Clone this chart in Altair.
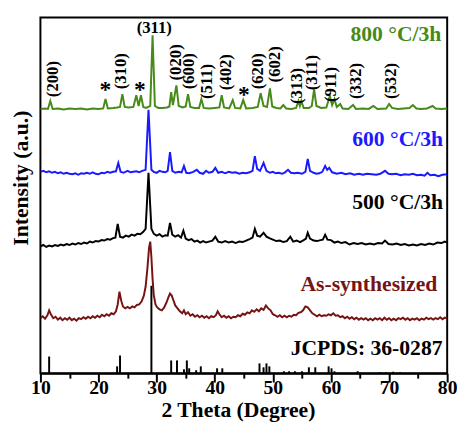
import altair as alt
import pandas as pd

# ---------------- data (2-theta in degrees, intensity in arbitrary stacked units) -------------
green_x = [10.0, 10.8, 11.3, 11.7, 12.1, 13, 14, 15, 16, 17, 18, 19, 20, 20.8, 21.2, 21.6, 22.5, 23.2,
           23.7, 24.1, 24.5, 25.2, 26, 26.5, 26.9, 27.3, 27.7, 28.2, 28.9, 29.3, 29.7, 30.3, 31, 31.8,
           32.2, 32.5, 32.8, 33.4, 33.8, 34.5, 35.0, 35.4, 35.8, 36.5, 37.3, 37.7, 38.1, 39, 40, 40.8,
           41.2, 41.6, 42.5, 43.1, 43.5, 44.4, 44.9, 45.4, 46.5, 47.4, 47.9, 48.4, 49.0, 49.5, 49.9,
           50.6, 51.3, 51.8, 52.3, 53.2, 54, 54.4, 54.65, 54.9, 55.3, 56.2, 56.7, 57.1, 57.5, 58.3,
           59.2, 59.8, 60.2, 60.6, 61.0, 61.6, 62.0, 63.0, 63.8, 64.3, 65.5, 66.5, 67.3, 68, 69.5,
           70.0, 70.5, 71.5, 72.5, 73.5, 74.1, 74.7, 75.5, 76.5, 77.5, 78, 79, 80]
green_y = [269, 269.5, 269, 277, 269, 269.5, 268.5, 269.5, 269, 269.5, 268.5, 269.5, 269, 269.5, 279,
           269.5, 270, 270.5, 271, 284, 271, 270.5, 271, 283, 272, 283, 271, 270, 272, 344, 272, 270,
           270, 270.5, 271.5, 286, 273, 293, 272, 270.5, 271.5, 284, 271, 270, 270, 279, 270, 269.5,
           270, 270.5, 283, 270.5, 269.5, 278, 270, 269.5, 278, 269.5, 270, 271, 285, 272, 271, 290,
           271.5, 270, 269.5, 273, 269.5, 269, 270, 277, 272, 277, 270, 270, 272, 289, 272, 270,
           270.5, 282, 273, 279, 271, 274, 269.5, 269, 273, 269, 269.5, 269, 272, 269, 269.5, 274,
           270, 269, 269.5, 270, 273, 269.5, 269, 269.5, 272, 269.5, 269, 269.5]

blue_x = [10, 10.5, 11, 11.5, 12, 12.5, 13, 13.5, 14, 14.5, 15, 15.5, 16, 16.5, 17, 17.5, 18, 18.5, 19,
          19.5, 20, 20.5, 21, 21.5, 22, 22.5, 23.0, 23.4, 23.8, 24.3, 25, 25.5, 26, 26.5, 27, 27.5,
          28.1, 28.6, 29.1, 29.5, 30, 30.5, 31, 31.5, 31.9, 32.3, 32.7, 33.2, 33.8, 34.3, 34.7, 35.1,
          35.6, 36.3, 36.9, 37.4, 38, 38.5, 39, 39.6, 40.1, 40.6, 41.2, 41.8, 42.4, 43, 43.6, 44.2,
          44.8, 45.4, 46, 46.5, 46.9, 47.3, 47.8, 48.4, 48.9, 49.5, 50, 50.5, 51, 51.6, 52.1, 52.6,
          53.1, 53.7, 54.3, 55, 55.6, 56.0, 56.4, 57, 57.5, 58, 58.5, 59.0, 59.35, 59.7, 60.2, 61,
          61.8, 62.5, 63.3, 64, 64.8, 65.5, 66.2, 67, 67.8, 68.5, 69.3, 69.9, 70.5, 71.2, 72, 72.7,
          73.4, 74.1, 74.8, 75.5, 76.1, 76.6, 77.1, 77.8, 78.5, 79.2, 80]
blue_y = [205, 206, 204.5, 205.5, 204, 205, 203.5, 204.5, 203, 204, 203, 202.5, 203.5, 202, 203.5, 203,
          204, 203, 204.5, 203, 202.5, 204, 203.5, 205, 204, 205, 205.5, 214, 205, 204, 206, 204.5,
          205, 205.5, 204.5, 206, 207, 268, 207, 205, 204, 206, 205, 204.5, 206, 225, 206, 204, 205,
          204.5, 211, 204, 203.5, 205, 207, 204, 203, 206, 204, 205, 209, 204, 205, 203.5, 205, 204,
          204.5, 203, 204, 203.5, 204.5, 206, 221, 208, 206, 214, 206, 204, 205, 203.5, 204, 203,
          204.5, 207, 204, 203.5, 204, 203, 205, 218, 206, 204, 203, 203.5, 205, 211, 207, 209, 204.5,
          203, 204, 202.5, 203.5, 202, 203, 202, 203, 202.5, 202, 203, 206, 203, 202.5, 203, 201.5,
          202.5, 202, 203, 201.5, 202, 201, 204, 201.5, 202, 200.5, 202, 202.5]

black_x = [10, 10.5, 11, 11.5, 12, 12.5, 13, 13.5, 14, 14.5, 15, 15.5, 16, 16.5, 17, 17.5, 18, 18.5, 19,
           19.5, 20, 20.5, 21, 21.5, 22, 22.5, 22.9, 23.3, 23.7, 24.2, 24.7, 25.2, 25.7, 26.2, 26.7,
           27.2, 27.7, 28.1, 28.6, 29.1, 29.5, 30, 30.5, 31, 31.5, 31.9, 32.3, 32.7, 33.2, 33.7, 34.2,
           34.6, 35, 35.5, 36, 36.5, 37, 37.5, 38, 38.5, 39, 39.6, 40.1, 40.6, 41.2, 41.8, 42.4, 43,
           43.6, 44.2, 44.8, 45.4, 46, 46.5, 46.9, 47.3, 47.8, 48.4, 48.9, 49.4, 50, 50.6, 51.2, 51.8,
           52.4, 53, 53.5, 54.1, 54.7, 55.3, 55.7, 56.0, 56.4, 57, 57.6, 58.2, 58.6, 59.0, 59.4, 60,
           60.6, 61.2, 61.8, 62.5, 63.2, 63.9, 64.6, 65.3, 66, 66.7, 67.4, 68.1, 68.8, 69.3, 69.9,
           70.6, 71.3, 72, 72.7, 73.4, 74.1, 74.8, 75.5, 76.2, 76.9, 77.6, 78.3, 79, 79.6, 80]
black_y = [129, 130.5, 128.5, 130, 129, 130.5, 129.5, 131, 130, 131.5, 130.5, 132, 131, 132.5, 131.5,
           133, 132, 134, 133, 134.5, 134, 135.5, 135, 136.5, 136, 137.5, 138, 152, 139, 138, 140,
           139, 141, 140, 142, 141.5, 144, 147, 204, 147, 142, 140, 141.5, 139, 140.5, 140, 153, 141,
           139, 140.5, 138, 145, 137, 135.5, 136.5, 134, 135, 133, 134.5, 133, 134, 135, 139, 134,
           133, 134.5, 133, 134, 132.5, 134, 133.5, 135, 136.5, 138, 147, 140, 139, 143, 139, 137.5,
           136, 134.5, 135, 133.5, 134.5, 139, 134, 135, 133.5, 135.5, 137, 143, 137, 135, 134.5,
           135.5, 136, 141, 136, 135.5, 133, 134, 132.5, 133.5, 131, 132.5, 131.5, 132.5, 131, 132,
           131, 132.5, 132, 135, 131.5, 131, 132, 130.5, 131.5, 130, 131, 130, 131.5, 130.5, 132,
           131, 133, 132.5, 134, 133]

red_x = [10, 10.4, 10.8, 11.2, 11.5, 11.8, 12.2, 12.6, 13, 13.4, 13.8, 14.2, 14.6, 15, 15.4, 15.8, 16.2,
         16.6, 17, 17.4, 17.8, 18.2, 18.6, 19, 19.4, 19.8, 20.2, 20.6, 21, 21.4, 21.8, 22.2, 22.6, 23,
         23.3, 23.6, 23.9, 24.2, 24.6, 25, 25.4, 25.8, 26.2, 26.6, 27, 27.4, 27.8, 28.1, 28.4, 28.7,
         28.9, 29.1, 29.3, 29.5, 29.8, 30.1, 30.5, 30.9, 31.3, 31.7, 32.0, 32.3, 32.6, 32.9, 33.2,
         33.6, 34, 34.4, 34.7, 35, 35.4, 35.8, 36.2, 36.6, 37, 37.4, 37.8, 38.2, 38.6, 39, 39.4, 39.8,
         40.2, 40.5, 40.8, 41.2, 41.6, 42, 42.4, 42.8, 43.2, 43.6, 44, 44.4, 44.8, 45.2, 45.6, 46,
         46.4, 46.8, 47.2, 47.6, 48, 48.4, 48.8, 49.2, 49.6, 50, 50.4, 50.8, 51.2, 51.6, 52, 52.4,
         52.8, 53.2, 53.6, 54, 54.4, 54.8, 55.2, 55.6, 56, 56.4, 56.8, 57.2, 57.6, 58, 58.4, 58.8,
         59.2, 59.6, 60, 60.4, 60.8, 61.2, 61.6, 62, 62.4, 62.8, 63.2, 63.6, 64, 64.4, 64.8, 65.2,
         65.6, 66, 66.4, 66.8, 67.2, 67.6, 68, 68.4, 68.8, 69.2, 69.6, 70, 70.4, 70.8, 71.2, 71.6, 72,
         72.4, 72.8, 73.2, 73.6, 74, 74.4, 74.8, 75.2, 75.6, 76, 76.4, 76.8, 77.2, 77.6, 78, 78.4,
         78.8, 79.2, 79.6, 80]
red_y = [56, 58, 55.5, 59, 64, 60, 56, 57.5, 54.5, 56.5, 54, 56, 54.5, 56.5, 54, 55.5, 53.5, 56, 55, 57,
         55.5, 57.5, 56, 58, 56.5, 58.5, 57, 59.5, 58, 60, 58.5, 61, 60, 63, 70, 83, 74, 68, 66, 67.5,
         66, 68, 67, 69.5, 70, 73, 79, 88, 106, 128, 134, 118, 96, 80, 70, 67, 65, 64, 67, 72, 77, 81,
         79, 74, 69, 66, 63, 61, 64, 60, 62, 58.5, 60, 57.5, 59, 57, 58.5, 56.5, 58, 56, 58, 57, 59,
         63, 60, 57, 58.5, 56.5, 58, 56, 57.5, 57, 59, 58, 60.5, 59.5, 62, 61, 64, 62.5, 65, 63, 66,
         64.5, 69, 66, 64, 60, 59, 57.5, 59, 57, 58.5, 57, 58.5, 57.5, 59.5, 59, 61.5, 62, 64, 68, 67,
         64, 61, 59.5, 58, 59.5, 58, 59, 58.5, 60, 59, 61, 58.5, 59, 57, 58, 56, 57.5, 55.5, 57, 55,
         56.5, 54.5, 56, 54.5, 56, 54, 55.5, 54, 56, 54.5, 56, 54, 56.5, 54.5, 56, 54, 55.5, 54, 56,
         55, 56.5, 54.5, 56, 54, 55.5, 54.5, 56, 54, 55.5, 54.5, 56.5, 55, 56, 54.5, 56, 55, 57, 55,
         56.5, 55.5]

jcpds_pos = [11.5, 23.2, 23.7, 29.1, 32.5, 33.5, 34.7, 35.2, 35.6, 36.8, 37.6, 40.4, 41.3, 47.7, 48.4,
             48.9, 49.4, 51.9, 52.8, 53.8, 55.0, 56.2, 57.3, 59.6, 60.1, 60.6, 64.6, 68.5, 69.5, 70.7,
             71.9]
jcpds_int = [17, 7, 18, 89, 13, 13, 4, 13, 5, 3, 7, 5, 5, 10, 6, 10, 7, 2, 2, 2, 2, 6, 6, 7, 5, 2, 2,
             1, 1, 1.5, 1]

hkl_labels = ["(200)", "(310)", "(020)", "(600)", "(511)", "(402)", "(620)", "(602)", "(313)", "(311)",
              "(911)", "(332)", "(532)"]
hkl_x = [12.1, 23.9, 33.3, 35.5, 38.7, 42.0, 47.4, 50.4, 54.1, 56.8, 60.0, 64.4, 70.4]
hkl_y = [281, 289, 298, 289, 279, 288, 289, 296, 274, 288, 276, 279, 279]

star_x = [21.2, 27.1, 45.0]
star_y = [281, 281, 276]

series_names = ["800", "600", "500", "As"]
series_colors = ["#468a1a", "#1a1aff", "#000000", "#761414"]
series_widths = [2.0, 2.0, 2.0, 1.2]

label_texts = ["800 °C/3h", "600 °C/3h", "500 °C/3h", "As-synthesized", "JCPDS: 36-0287"]
label_x = [79.0, 79.3, 79.3, 78.3, 79.2]
label_y = [338, 231, 167, 84, 19]
label_colors = ["#468a1a", "#1a1aff", "#000000", "#761414", "#000000"]

# ---------------- tables ----------------
traces = pd.concat([
    pd.DataFrame({"theta": green_x, "intensity": green_y, "series": "800"}),
    pd.DataFrame({"theta": blue_x, "intensity": blue_y, "series": "600"}),
    pd.DataFrame({"theta": black_x, "intensity": black_y, "series": "500"}),
    pd.DataFrame({"theta": red_x, "intensity": red_y, "series": "As"}),
], ignore_index=True)
sticks = pd.DataFrame({"theta": jcpds_pos, "intensity": jcpds_int})
hkl = pd.DataFrame({"theta": hkl_x, "intensity": hkl_y, "label": hkl_labels})
stars = pd.DataFrame({"theta": star_x, "intensity": star_y, "label": "*"})
top_hkl = pd.DataFrame({"theta": [29.6], "intensity": [346], "label": ["(311)"]})
labels = pd.DataFrame({"theta": label_x, "intensity": label_y, "label": label_texts, "c": label_colors})

FONT = "Liberation Serif"
x_scale = alt.Scale(domain=[10, 80], nice=False)
y_scale = alt.Scale(domain=[0, 362], nice=False, zero=False)

x_axis = alt.Axis(
    values=list(range(10, 81, 5)),
    labelExpr="datum.value % 10 === 0 ? datum.label : ''",
    tickSize={"condition": {"test": "datum.value % 10 === 0", "value": 9}, "value": 5},
    labelPadding=-4,
    labelFlush=False,
    title="2 Theta (Degree)",
    titleY=27,
    titleX=201,
    grid=False,
)
y_axis = alt.Axis(labels=False, ticks=False, domain=False, grid=False,
                  title="Intensity (a.u.)", titleX=-8, titleY=163)


def X():
    return alt.X("theta:Q", scale=x_scale, axis=x_axis)


def Y():
    return alt.Y("intensity:Q", scale=y_scale, axis=y_axis)


lines = alt.Chart(traces).mark_line(clip=True).encode(
    x=X(), y=Y(),
    color=alt.Color("series:N", scale=alt.Scale(domain=series_names, range=series_colors), legend=None),
    strokeWidth=alt.StrokeWidth("series:N", scale=alt.Scale(domain=series_names, range=series_widths),
                                legend=None),
)

stick_layer = alt.Chart(sticks).mark_rule(color="black", strokeWidth=2).encode(
    x=X(), y=Y(), y2=alt.datum(0)
)

hkl_layer = alt.Chart(hkl).mark_text(
    angle=270, align="left", baseline="middle", font=FONT, fontWeight="bold", fontSize=17, color="black"
).encode(x=X(), y=Y(), text="label:N")

star_layer = alt.Chart(stars).mark_text(
    align="center", baseline="alphabetic", font=FONT, fontWeight="bold", fontSize=24, color="black"
).encode(x=X(), y=Y(), text="label:N")

top_layer = alt.Chart(top_hkl).mark_text(
    align="center", baseline="alphabetic", font=FONT, fontWeight="bold", fontSize=17, color="black"
).encode(x=X(), y=Y(), text="label:N")

label_layer = alt.Chart(labels).mark_text(
    align="right", baseline="alphabetic", font=FONT, fontWeight="bold", fontSize=22
).encode(x=X(), y=Y(), text="label:N", color=alt.Color("c:N", scale=None))

chart = alt.layer(lines, stick_layer, hkl_layer, star_layer, top_layer, label_layer).properties(
    width=414, height=362,
    autosize=alt.AutoSizeParams(type="none"),
    padding={"left": 33, "top": 6, "right": 10, "bottom": 51},
).configure_view(stroke="black", strokeWidth=2).configure_axis(
    domainColor="black", domainWidth=2, tickColor="black", tickWidth=2,
    labelFont=FONT, labelFontWeight="bold", labelFontSize=20, labelColor="black",
    titleFont=FONT, titleFontWeight="bold", titleFontSize=22, titleColor="black",
)

chart.save("out.html", embed_options={"renderer": "svg", "actions": False})
